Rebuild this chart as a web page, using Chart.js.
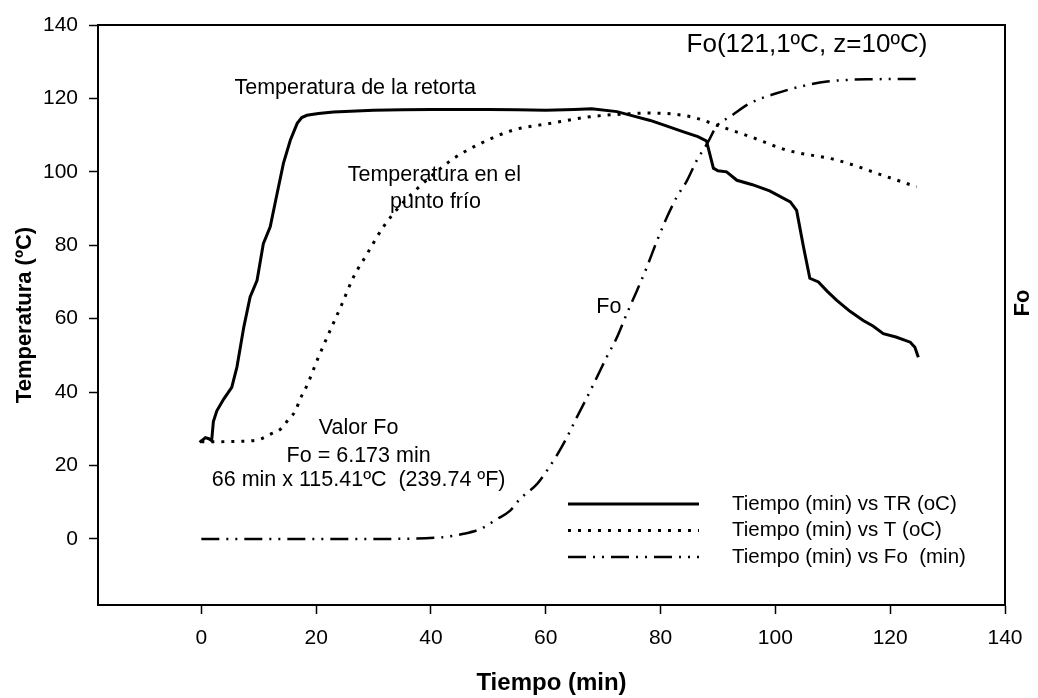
<!DOCTYPE html>
<html>
<head>
<meta charset="utf-8">
<script src="https://cdn.jsdelivr.net/npm/chart.js@4.4.0/dist/chart.umd.min.js"></script>
<style>
html, body { margin: 0; padding: 0; background: #fff; }
#wrap { width: 1038px; height: 698px; }
</style>
</head>
<body>
<div id="wrap"><canvas id="chart"></canvas></div>
<script>
// Tiempo (min) vs TR (oC) - temperatura de la retorta
const trTime = [-0.3, 0.1, 0.7, 1.3, 1.8, 2.1, 2.7, 3.9, 5.3, 6.2, 7.4, 8.5, 9.7, 10.8, 12, 13.2, 14.3, 15.5, 16.7, 17.5,
	18.4, 20.4, 23, 26, 30, 35, 40, 45, 50, 55, 60, 65, 68, 72.4, 75, 78.2, 81, 84, 86.5, 88,
	89.2, 90, 91.5, 93.3, 96, 99, 102.6, 103.7, 104.9, 106, 107.5, 109, 110.7, 113, 115.3, 117, 118.8, 121, 123.5, 124.3, 124.9];
const trTemp = [26.3, 26.8, 27.6, 27.3, 26.8, 32, 34.9, 38.1, 41.3, 46.8, 57.7, 65.9, 70.4, 80.4, 85, 94.1, 102.3, 108.6, 113.2, 114.8,
	115.4, 115.9, 116.3, 116.5, 116.8, 116.9, 117, 117, 117, 116.9, 116.8, 117, 117.2, 116.4, 115.3, 114, 112.5, 110.9, 109.6, 108.4,
	101, 100.3, 100, 97.7, 96.5, 94.8, 91.8, 89.5, 79.5, 71, 70, 67.5, 65, 62, 59.5, 58, 55.9, 55, 53.6, 52.2, 49.5];

// Tiempo (min) vs T (oC) - punto frío
const tTime = [0, 3.3, 6.8, 8.5, 10.3, 12, 13.8, 15.2, 16.4, 17.2, 18.1, 19, 19.7, 20.4, 22.5, 24.5, 26.5, 28.9, 31.7, 34.5,
	37.6, 40.8, 43.9, 48.6, 54.4, 60.8, 67.7, 72, 78.2, 82, 86.3, 89.8, 95.6, 102, 110.7, 118.8, 124.6];
const tTemp = [26.5, 26.5, 26.6, 26.7, 27.2, 28.5, 29.9, 32.6, 34.9, 38.1, 40.8, 44, 46.8, 49.5, 57, 64, 71.3, 77.7, 85, 90.5,
	95.4, 99.8, 103.6, 107.7, 111.4, 113.2, 115, 115.6, 116, 115.8, 114.6, 112.7, 109.6, 105.9, 103.2, 99, 95.9];

// Tiempo (min) vs Fo (min)
const foTime = [0, 10, 20, 30, 41.6, 45.7, 48.6, 51.5, 53.8, 55.5, 58.5, 60.2, 61.9, 63.7, 65.4, 67.2, 68.9, 70.6, 72.4, 74.1,
	75.9, 77.6, 79.4, 81.1, 82.8, 84.6, 86.3, 88.1, 89.8, 92.1, 95.6, 100.2, 104.3, 109, 115.9, 124.8];
const foVal = [0, 0, 0, 0, 0.4, 1.4, 2.7, 5.4, 7.7, 10.9, 15, 18.6, 22.7, 27.7, 33.1, 38.6, 44, 49.5, 54.9, 61.3,
	67.7, 74, 81.3, 87.6, 93.1, 97.6, 103.1, 107.6, 112.5, 115, 118.7, 121.4, 123.2, 124.6, 125.2, 125.3];

const seriesLabels = ['Tiempo (min) vs TR (oC)', 'Tiempo (min) vs T (oC)', 'Tiempo (min) vs Fo  (min)'];
const xTicks = [0, 20, 40, 60, 80, 100, 120, 140];
const yTicks = [0, 20, 40, 60, 80, 100, 120, 140];

const FONT = '"Liberation Sans", Arial, sans-serif';

function pts(xs, ys) {
	return xs.map((x, i) => ({x: x, y: ys[i]}));
}

// text notes placed in data units
const notes = [
	{text: 'Temperatura de la retorta', x: 26.8, y: 122.7},
	{text: 'Temperatura en el', x: 40.6, y: 99.1},
	{text: 'punto frío', x: 40.8, y: 91.8},
	{text: 'Valor Fo', x: 27.4, y: 30.1},
	{text: 'Fo = 6.173 min', x: 27.4, y: 22.7},
	{text: '66 min x 115.41ºC  (239.74 ºF)', x: 27.4, y: 15.9},
	{text: 'Fo', x: 71, y: 63.2},
];

const notesPlugin = {
	id: 'notes',
	afterDatasetsDraw(chart) {
		const ctx = chart.ctx;
		const sx = chart.scales.x, sy = chart.scales.y;
		ctx.save();
		ctx.fillStyle = '#000';
		ctx.textAlign = 'center';
		ctx.textBaseline = 'middle';
		ctx.font = '21.5px ' + FONT;
		notes.forEach(n => {
			ctx.fillText(n.text, sx.getPixelForValue(n.x), sy.getPixelForValue(n.y));
		});
		ctx.font = '26px ' + FONT;
		ctx.fillText('Fo(121,1ºC, z=10ºC)', sx.getPixelForValue(105.5), sy.getPixelForValue(134.5));

		// right axis title, reads bottom to top like the left one
		const a = chart.chartArea;
		ctx.translate(1023, (a.top + a.bottom) / 2 - 12);
		ctx.rotate(-Math.PI / 2);
		ctx.font = 'bold 22px ' + FONT;
		ctx.fillText('Fo', 0, 0);
		ctx.restore();
	}
};

const legendPlugin = {
	id: 'lineLegend',
	afterDatasetsDraw(chart) {
		const ctx = chart.ctx, a = chart.chartArea;
		const x0 = a.right - 437, x1 = a.right - 306, tx = a.right - 273;
		let y = a.bottom - 101;
		chart.data.datasets.forEach(ds => {
			ctx.save();
			ctx.strokeStyle = '#000';
			ctx.lineWidth = ds.borderWidth;
			ctx.setLineDash(ds.borderDash || []);
			ctx.beginPath();
			ctx.moveTo(x0, y);
			ctx.lineTo(x1, y);
			ctx.stroke();
			ctx.setLineDash([]);
			ctx.fillStyle = '#000';
			ctx.font = '20.5px ' + FONT;
			ctx.textBaseline = 'middle';
			ctx.fillText(ds.label, tx, y);
			ctx.restore();
			y += 26.5;
		});
	}
};

function keepTicks(list) {
	return function(scale) {
		scale.ticks = list.map(v => ({value: v}));
	};
}

const tickFont = {family: FONT, size: 21};
const axisGrid = {drawOnChartArea: false, drawTicks: true, tickLength: 9, tickColor: '#000', tickWidth: 1.5};
const axisBorder = {color: '#000', width: 2};

const ctx = document.getElementById('chart').getContext('2d');
const chart = new Chart(ctx, {
	type: 'line',
	data: {
		datasets: [
			{
				label: seriesLabels[0],
				data: pts(trTime, trTemp),
				borderColor: '#000',
				borderWidth: 3,
				tension: 0,
				pointRadius: 0,
				yAxisID: 'y',
			},
			{
				label: seriesLabels[1],
				data: pts(tTime, tTemp),
				borderColor: '#000',
				borderWidth: 3,
				borderDash: [3, 7],
				cubicInterpolationMode: 'monotone',
				pointRadius: 0,
				yAxisID: 'y',
			},
			{
				label: seriesLabels[2],
				data: pts(foTime, foVal),
				borderColor: '#000',
				borderWidth: 2.5,
				borderDash: [18, 7, 2, 7, 2, 7],
				cubicInterpolationMode: 'monotone',
				pointRadius: 0,
				yAxisID: 'y2',
			},
		]
	},
	options: {
		responsive: true,
		maintainAspectRatio: false,
		animation: false,
		layout: {padding: 0},
		plugins: {
			legend: {display: false},
			tooltip: {enabled: false},
		},
		scales: {
			x: {
				type: 'linear',
				position: 'bottom',
				min: -18, max: 140,
				afterBuildTicks: keepTicks(xTicks),
				afterFit: s => { s.height = 93; },
				ticks: {color: '#000', font: tickFont, padding: 12, maxRotation: 0},
				grid: axisGrid,
				border: axisBorder,
				title: {display: true, text: 'Tiempo (min)', color: '#000',
					font: {family: FONT, size: 24, weight: 'bold'}, padding: {top: 0, bottom: 0}},
			},
			x2: {
				type: 'linear',
				position: 'top',
				min: -18, max: 140,
				afterBuildTicks: s => { s.ticks = []; },
				afterFit: s => { s.height = 25; },
				ticks: {display: false},
				grid: {display: false},
				border: axisBorder,
			},
			y: {
				type: 'linear',
				position: 'left',
				min: -18, max: 140,
				afterBuildTicks: keepTicks(yTicks),
				afterFit: s => { s.width = 98; },
				ticks: {color: '#000', font: tickFont, padding: 11},
				grid: axisGrid,
				border: axisBorder,
				title: {display: true, text: 'Temperatura (ºC)', color: '#000',
					font: {family: FONT, size: 22, weight: 'bold'}, padding: {top: 12, bottom: 0}},
			},
			y2: {
				type: 'linear',
				position: 'right',
				min: -18, max: 140,
				afterBuildTicks: s => { s.ticks = []; },
				afterFit: s => { s.width = 33; },
				ticks: {display: false},
				grid: {display: false},
				border: axisBorder,
			},
		}
	},
	plugins: [notesPlugin, legendPlugin],
});
</script>
</body>
</html>
